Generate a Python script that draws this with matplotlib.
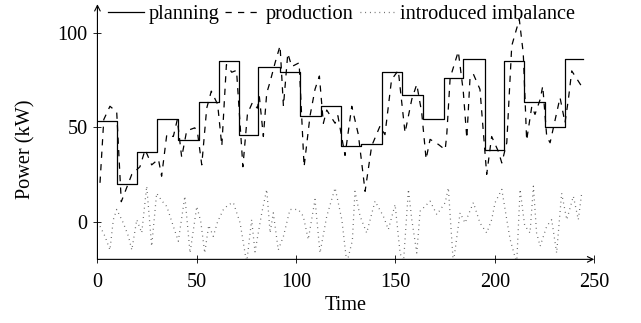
import numpy as np
import matplotlib
matplotlib.use("Agg")
import matplotlib.pyplot as plt

plt.rcParams['font.family'] = ['Liberation Serif', 'DejaVu Serif']
plt.rcParams['lines.scale_dashes'] = False

# planning: step start times and power (kW)
plan_t = [0, 10, 20, 30, 40.5, 51, 61, 71, 81, 91.7, 102, 112.7, 122.8, 132.4,
          143, 153.4, 163.7, 174.4, 184, 195, 204.6, 214.7, 225, 235.4, 244.6]
plan_v = [53, 20, 37, 54, 43, 63, 85, 46, 82, 79, 56, 61, 40, 41,
          79, 67, 54, 76, 86, 38, 85, 63, 50, 86]

# production
prod_t = [1.3, 3.2, 6.3, 9.7, 12, 17.3, 21.4, 24, 27.3, 30.7, 32.3, 34.9, 38.2, 40.2,
          42.4, 44.9, 49, 50.5, 52.5, 55, 57.3, 60.5, 62.6, 64.9, 67.6, 70, 73.2, 75.5,
          78, 80.5, 81.5, 83.5, 85.2, 86.9, 89.4, 91.9, 93.6, 95.8, 97.8, 101.5, 104,
          107, 109.5, 111.7, 113.7, 115.4, 119.6, 121, 124.6, 128, 131.3, 134.7, 138,
          142.2, 144.7, 148, 151.4, 154.8, 158.2, 160.7, 163.2, 165.4, 167.4, 171.6,
          175, 175.8, 177.5, 181.6, 184.1, 185.9, 187.5, 189.2, 192.5, 195.9, 198.4,
          201.8, 203.5, 206, 208.5, 212.3, 214.3, 216, 218.6, 220.2, 222.8, 224.1,
          226.1, 227.8, 232.8, 235.3, 237, 238.7, 242, 244.6]
prod_v = [20.5, 54, 61, 58, 10.5, 25, 29, 38, 30, 33, 24, 46, 45, 54,
          34, 48, 49.6, 46, 30, 60, 69, 62, 40, 83, 79, 80, 29, 57,
          63, 60, 66, 45, 68, 74, 84, 93, 61, 89, 82, 84, 29,
          56, 70, 77, 52, 59, 52, 56, 35, 61, 46, 16, 40,
          50.5, 46, 75, 80, 47, 64.7, 72.6, 57.6, 33, 43.5, 40.8,
          38, 46, 76, 90, 69, 44, 76, 78, 70, 25, 45,
          37, 31, 41.7, 93, 107, 89, 43, 61, 56.7, 64.6, 71.7,
          45, 41.7, 65.6, 52.3, 64.6, 79.7, 74.3, 70]

# introduced imbalance
imb_t = [1.3, 3.8, 6.3, 8, 9.7, 13, 15.6, 17.3, 19.8, 22.3, 24.8, 27.3, 29.8, 32.4,
         34.9, 38.2, 40.7, 44, 46.6, 50, 52, 54, 56, 58.3, 60.5, 63.4, 66, 68.4, 71.8,
         75.1, 77.6, 79.3, 82.7, 85.2, 86.9, 88.5, 91, 93.6, 96.9, 101.1, 103.6, 106.1,
         109.5, 112, 115.4, 119.6, 123, 125.5, 128.3, 129.6, 132.2, 135.5, 139.7, 143.9,
         146.4, 149.8, 152.3, 154, 156.5, 158.2, 160.7, 162.4, 167.4, 170.8, 175, 176.6,
         179.1, 182.5, 185, 189.2, 192.5, 195.9, 198.4, 200.1, 203.5, 206, 207.7, 211,
         212.7, 215, 217.7, 219.4, 221, 222.8, 226.1, 228.6, 231.1, 233.6, 236.2, 239.5,
         242, 243.7]
imb_v = [-2.5, -7.8, -15, 1, 6.4, -0.7, -7.8, -15, 1, -6, 18.7, -13, 15, 11,
         8, -2.5, -10.4, 13.4, -16.6, 8, 0, -16.6, -2, -7.8, 0, 6.4, 9, 10, -0.7,
         -22, 1, -16, 4.6, 17, -6, 4.6, -15, -7.8, 6.4, 6.4, 2.8, -9.5,
         11.7, -16.6, 2.8, 17.8, 1, -22, -10, 16, 2.8, -6, 10.8, 2.8,
         -4.2, 9, -16.6, -22, 17, 1, -16.6, 5.5, 10.8, 3.7, 10, 17.8,
         -22, 4.6, -0.7, 10, -0.7, -6, 1, 10, 17, 1, -9.5, -22,
         17, -2, -6, 18.7, -6, -13, -2.5, 1, -16.6, 15, 1, 13.4,
         1, 15]

fig = plt.figure(figsize=(6.41, 3.23), dpi=100)
ax = fig.add_axes([0.152, 0.197, 0.775, 0.790])

ax.step(plan_t, plan_v + [plan_v[-1]], where='post', color='black', lw=0.9,
        label='planning')
ax.plot(prod_t, prod_v, color='black', lw=0.9, ls=(0, (4.5, 4.5)),
        label='production')
ax.plot(imb_t, imb_v, color='#555555', lw=0.9, ls=(0, (0.6, 2.8)),
        label='introduced imbalance')

ax.set_xlim(0, 250)
ax.set_ylim(-20, 115)
ax.set_xticks([0, 50, 100, 150, 200, 250])
ax.set_yticks([0, 50, 100])
ax.tick_params(direction='inout', length=6, width=0.6, labelsize=14.6, pad=4)
ax.tick_params(axis='x', pad=7)

for s in ['top', 'right', 'left', 'bottom']:
    ax.spines[s].set_visible(False)
arrow = dict(arrowstyle='->', lw=0.8, color='black', shrinkA=0, shrinkB=0)
ax.annotate('', xy=(1, 0), xytext=(0, 0), xycoords='axes fraction', arrowprops=arrow)
ax.annotate('', xy=(0, 1), xytext=(0, 0), xycoords='axes fraction', arrowprops=arrow)

ax.set_xlabel('Time', fontsize=14.6, labelpad=3)
ax.set_ylabel('Power (kW)', fontsize=14.6)
ax.yaxis.set_label_coords(-0.125, 0.43)

fig.legend(loc='center left', bbox_to_anchor=(0.168, 0.955), ncol=3, frameon=False,
           fontsize=14.6, handlelength=1.8, handletextpad=0.2, columnspacing=0.3,
           borderaxespad=0, borderpad=0)

fig.savefig('out.png', dpi=100)
